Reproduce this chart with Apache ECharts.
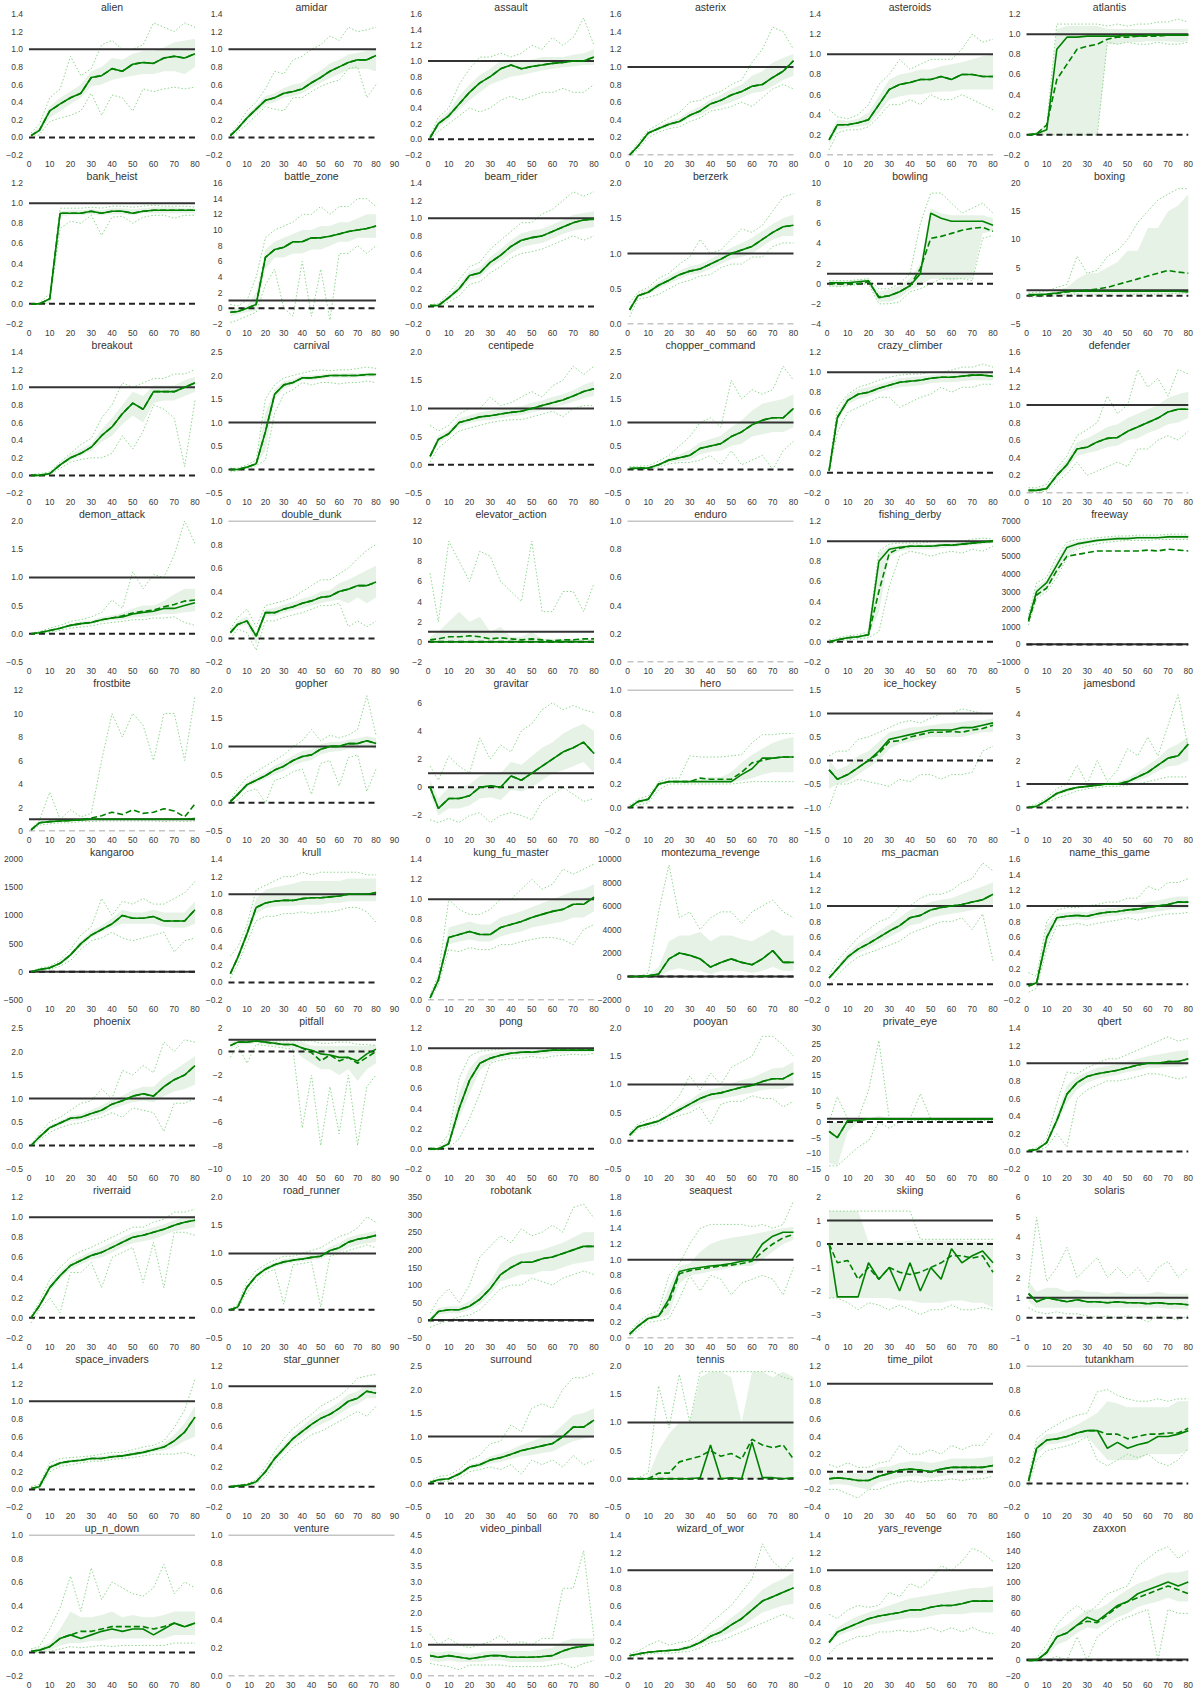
<!DOCTYPE html>
<html>
<head>
<meta charset="utf-8">
<title>Atari learning curves</title>
<script src="https://cdn.jsdelivr.net/npm/echarts@6/dist/echarts.min.js"></script>
<style>
  html, body { margin: 0; padding: 0; background: #fff; }
  #chart { width: 1196px; height: 1689px; }
</style>
</head>
<body>
<div id="chart"></div>
<script>
// ---------------------------------------------------------------------------
// Data (normalised score per game at xSteps)
// ---------------------------------------------------------------------------
const games = [
  'alien', 'amidar', 'assault', 'asterix', 'asteroids', 'atlantis',
  'bank_heist', 'battle_zone', 'beam_rider', 'berzerk', 'bowling', 'boxing',
  'breakout', 'carnival', 'centipede', 'chopper_command', 'crazy_climber', 'defender',
  'demon_attack', 'double_dunk', 'elevator_action', 'enduro', 'fishing_derby', 'freeway',
  'frostbite', 'gopher', 'gravitar', 'hero', 'ice_hockey', 'jamesbond',
  'kangaroo', 'krull', 'kung_fu_master', 'montezuma_revenge', 'ms_pacman', 'name_this_game',
  'phoenix', 'pitfall', 'pong', 'pooyan', 'private_eye', 'qbert',
  'riverraid', 'road_runner', 'robotank', 'seaquest', 'skiing', 'solaris',
  'space_invaders', 'star_gunner', 'surround', 'tennis', 'time_pilot', 'tutankham',
  'up_n_down', 'venture', 'video_pinball', 'wizard_of_wor', 'yars_revenge', 'zaxxon'
];

const xSteps = [1, 5, 10, 15, 20, 25, 30, 35, 40, 45, 50, 55, 60, 65, 70, 75, 80];

// games whose x axis runs to 90
const wideAxisGames = ['amidar', 'battle_zone', 'carnival', 'double_dunk', 'gopher',
  'krull', 'pitfall', 'road_runner', 'star_gunner'];

const humanScore = 1;
const randomScore = 0;
const refSpan = [0, 80];

// [min, max, tick step] per game
const yRanges = [
  [-0.2, 1.4, 0.2], [-0.2, 1.4, 0.2], [-0.2, 1.6, 0.2], [0, 1.6, 0.2], [0, 1.4, 0.2], [-0.2, 1.2, 0.2],
  [-0.2, 1.2, 0.2], [-2, 16, 2], [-0.2, 1.4, 0.2], [0, 2, 0.5], [-4, 10, 2], [-5, 20, 5],
  [-0.2, 1.4, 0.2], [-0.5, 2.5, 0.5], [-0.5, 2, 0.5], [-0.5, 2.5, 0.5], [-0.2, 1.2, 0.2], [0, 1.6, 0.2],
  [-0.5, 2, 0.5], [-0.2, 1, 0.2], [-2, 12, 2], [0, 1, 0.2], [-0.2, 1.2, 0.2], [-1000, 7000, 1000],
  [0, 12, 2], [-0.5, 2, 0.5], [-3.1, 6.9, 2], [-0.2, 1, 0.2], [-1.5, 1.5, 0.5], [-1, 5, 1],
  [-500, 2000, 500], [-0.2, 1.4, 0.2], [0, 1.4, 0.2], [-2000, 10000, 2000], [-0.2, 1.6, 0.2], [-0.2, 1.6, 0.2],
  [-0.5, 2.5, 0.5], [-10, 2, 2], [-0.2, 1.2, 0.2], [-0.5, 2, 0.5], [-15, 30, 5], [-0.2, 1.4, 0.2],
  [-0.2, 1.2, 0.2], [-0.5, 2, 0.5], [-50, 350, 50], [0, 1.8, 0.2], [-4, 2, 1], [-1, 6, 1],
  [-0.2, 1.4, 0.2], [-0.2, 1.2, 0.2], [-0.5, 2.5, 0.5], [-0.5, 2, 0.5], [-0.4, 1.2, 0.2], [-0.2, 1, 0.2],
  [-0.2, 1, 0.2], [0, 1, 0.2], [0, 4.5, 0.5], [-0.2, 1.4, 0.2], [-0.2, 1.4, 0.2], [-20, 160, 20]
];

// median run (solid line)
const medianRuns = [
  [0.02,0.08,0.3,0.38,0.45,0.5,0.68,0.7,0.78,0.75,0.83,0.85,0.84,0.9,0.92,0.9,0.95], // alien
  [0.02,0.1,0.22,0.32,0.42,0.45,0.5,0.52,0.55,0.62,0.68,0.75,0.8,0.85,0.88,0.88,0.93], // amidar
  [0.02,0.2,0.3,0.45,0.6,0.72,0.8,0.9,0.95,0.9,0.93,0.95,0.97,0.98,1.0,1.0,1.05], // assault
  [0,0.1,0.25,0.3,0.35,0.38,0.45,0.5,0.58,0.62,0.68,0.72,0.78,0.8,0.88,0.95,1.07], // asterix
  [0.15,0.3,0.3,0.32,0.35,0.5,0.65,0.7,0.72,0.75,0.75,0.78,0.75,0.8,0.8,0.78,0.78], // asteroids
  [0,0.01,0.05,0.85,0.97,0.97,0.98,0.98,0.98,0.98,0.99,0.98,0.99,0.99,0.99,0.99,0.99], // atlantis
  [0,0,0.05,0.9,0.9,0.9,0.92,0.9,0.92,0.92,0.9,0.92,0.93,0.93,0.93,0.93,0.93], // bank_heist
  [-0.5,-0.4,0,0.5,6.5,7.5,7.8,8.5,8.5,9,9,9.2,9.5,9.8,10,10.2,10.5], // battle_zone
  [0.01,0.01,0.1,0.2,0.35,0.38,0.5,0.58,0.68,0.75,0.78,0.8,0.85,0.9,0.95,0.98,0.99], // beam_rider
  [0.2,0.4,0.45,0.55,0.62,0.7,0.75,0.78,0.85,0.92,1.0,1.05,1.1,1.2,1.3,1.38,1.4], // berzerk
  [0.1,0.1,0.1,0.2,0.3,-1.4,-1.2,-0.8,-0.2,1.0,7.0,6.5,6.2,6.2,6.2,6.2,5.8], // bowling
  [0.2,0.2,0.3,0.5,0.8,0.8,0.8,0.8,0.8,0.8,0.8,0.8,0.8,0.8,0.8,0.8,0.7], // boxing
  [0,0,0.02,0.12,0.2,0.25,0.32,0.45,0.55,0.7,0.82,0.75,0.95,0.95,0.95,1.0,1.05], // breakout
  [0,0,0.05,0.12,0.8,1.6,1.8,1.85,1.95,1.95,1.97,2.0,2.0,2.0,2.0,2.02,2.02], // carnival
  [0.15,0.45,0.55,0.75,0.8,0.85,0.87,0.9,0.93,0.95,1.0,1.05,1.1,1.15,1.22,1.3,1.35], // centipede
  [0.02,0.03,0.03,0.1,0.2,0.25,0.3,0.45,0.5,0.55,0.7,0.8,0.95,1.05,1.1,1.1,1.3], // chopper_command
  [0.02,0.55,0.72,0.78,0.8,0.84,0.87,0.9,0.91,0.92,0.94,0.95,0.95,0.96,0.97,0.97,0.96], // crazy_climber
  [0.03,0.03,0.05,0.2,0.32,0.5,0.52,0.58,0.62,0.63,0.7,0.75,0.8,0.85,0.92,0.95,0.95], // defender
  [0,0.02,0.06,0.1,0.15,0.18,0.2,0.25,0.28,0.3,0.35,0.38,0.4,0.45,0.45,0.5,0.55], // demon_attack
  [0.05,0.12,0.15,0.02,0.22,0.22,0.25,0.27,0.3,0.32,0.35,0.36,0.4,0.42,0.45,0.45,0.48], // double_dunk
  [0,0,0,0,0,0,0,0,0,0,0,0,0,0,0,0,0], // elevator_action
  null, // enduro
  [0,0.02,0.04,0.05,0.07,0.8,0.92,0.94,0.95,0.95,0.95,0.96,0.96,0.97,0.98,0.99,1.0], // fishing_derby
  [1400,3000,3500,4500,5500,5700,5800,5900,5950,6000,6000,6050,6050,6050,6100,6100,6100], // freeway
  [0.1,0.7,0.8,0.85,0.9,0.95,1.0,1.0,1.0,1.0,1.0,1.0,1.0,1.0,1.0,1.0,1.05], // frostbite
  [0.02,0.15,0.32,0.4,0.48,0.58,0.65,0.75,0.82,0.85,0.95,1.0,1.0,1.05,1.05,1.1,1.05], // gopher
  [0,-1.5,-0.8,-0.8,-0.6,0,0.1,0,0.8,0.5,1.0,1.5,2.0,2.5,2.8,3.2,2.4], // gravitar
  [0,0.05,0.07,0.2,0.22,0.22,0.22,0.22,0.22,0.22,0.22,0.28,0.33,0.42,0.42,0.43,0.43], // hero
  [-0.2,-0.4,-0.3,-0.15,0,0.2,0.45,0.5,0.55,0.6,0.65,0.65,0.65,0.7,0.7,0.75,0.8], // ice_hockey
  [0,0.05,0.3,0.6,0.75,0.85,0.9,0.95,1.0,1.0,1.1,1.3,1.5,1.8,2.1,2.2,2.7], // jamesbond
  [0,40,70,150,300,500,650,750,850,1000,950,950,980,900,900,900,1100], // kangaroo
  [0.1,0.28,0.55,0.85,0.9,0.92,0.93,0.93,0.95,0.96,0.96,0.97,0.98,1.0,1.0,1.0,1.02], // krull
  [0.02,0.2,0.62,0.65,0.68,0.65,0.65,0.72,0.75,0.78,0.82,0.85,0.88,0.9,0.95,0.95,1.02], // kung_fu_master
  [0,0,50,200,1500,2000,1800,1500,800,1200,1500,1200,1000,1500,2200,1200,1200], // montezuma_revenge
  [0.08,0.2,0.35,0.45,0.52,0.6,0.68,0.75,0.85,0.88,0.95,0.98,1.0,1.02,1.05,1.08,1.15], // ms_pacman
  [-0.02,0.02,0.6,0.85,0.87,0.88,0.87,0.9,0.92,0.93,0.95,0.96,0.98,1.0,1.02,1.05,1.05], // name_this_game
  [0,0.18,0.38,0.48,0.58,0.6,0.68,0.75,0.88,0.95,1.05,1.1,1.05,1.25,1.4,1.5,1.7], // phoenix
  [0.5,0.8,0.8,0.9,0.8,0.7,0.6,0.6,0.3,0.1,-0.2,-0.3,-0.5,-0.5,-0.8,-0.2,0.2], // pitfall
  [0,0,0.05,0.4,0.68,0.85,0.9,0.93,0.95,0.96,0.96,0.97,0.98,0.98,0.98,0.98,0.98], // pong
  [0.1,0.25,0.3,0.35,0.45,0.55,0.65,0.75,0.82,0.85,0.9,0.95,0.98,1.05,1.1,1.1,1.2], // pooyan
  [-3,-5,0.5,0.5,1,1,1,1,1,1,1,1,1,1,1,1,1], // private_eye
  [0.01,0.02,0.1,0.35,0.65,0.78,0.85,0.88,0.9,0.92,0.95,0.98,1.0,1.0,1.02,1.02,1.05], // qbert
  [0,0.12,0.3,0.42,0.52,0.57,0.62,0.65,0.7,0.75,0.8,0.82,0.85,0.88,0.92,0.95,0.97], // riverraid
  [0,0.05,0.4,0.6,0.72,0.8,0.85,0.88,0.9,0.93,0.95,1.05,1.1,1.2,1.25,1.28,1.32], // road_runner
  [0,25,30,30,40,60,90,130,150,165,165,175,180,190,200,210,210], // robotank
  [0.05,0.15,0.25,0.28,0.5,0.85,0.88,0.9,0.92,0.93,0.95,0.98,1.0,1.2,1.3,1.35,1.35], // seaquest
  [0,-2.25,-2.25,-2.25,-0.8,-1.5,-1,-2,-0.8,-2,-1,-1.5,-0.2,-0.8,-0.5,-0.3,-0.8], // skiing
  [1.2,0.8,1.0,0.9,0.8,0.9,0.8,0.8,0.75,0.8,0.75,0.75,0.7,0.75,0.7,0.7,0.65], // solaris
  [0.01,0.03,0.25,0.3,0.32,0.33,0.35,0.35,0.37,0.38,0.4,0.42,0.45,0.48,0.55,0.65,0.82], // space_invaders
  [0,0.01,0.02,0.05,0.15,0.28,0.38,0.48,0.55,0.62,0.68,0.72,0.78,0.85,0.88,0.95,0.93], // star_gunner
  [0.02,0.08,0.1,0.2,0.35,0.4,0.5,0.55,0.62,0.7,0.75,0.8,0.85,1.0,1.2,1.2,1.35], // surround
  [0,0,0,0,0,0,0,0.02,0.6,0,0.02,0,0.65,0.02,0.02,0,0.02], // tennis
  [-0.08,-0.07,-0.08,-0.1,-0.1,-0.05,-0.02,0.02,0.03,0.02,0,0.03,0.05,0.05,0.05,0.05,0.07], // time_pilot
  [0.02,0.3,0.37,0.38,0.4,0.43,0.45,0.45,0.3,0.35,0.3,0.33,0.35,0.4,0.4,0.42,0.45], // tutankham
  [0.01,0.02,0.05,0.12,0.15,0.12,0.15,0.18,0.2,0.18,0.2,0.2,0.15,0.2,0.25,0.22,0.25], // up_n_down
  null, // venture
  [0.65,0.6,0.65,0.6,0.55,0.6,0.65,0.65,0.6,0.6,0.6,0.62,0.65,0.8,0.9,0.95,1.0], // video_pinball
  [0.03,0.05,0.07,0.08,0.09,0.1,0.13,0.18,0.25,0.3,0.38,0.45,0.55,0.65,0.7,0.75,0.8], // wizard_of_wor
  [0.18,0.3,0.35,0.4,0.45,0.48,0.5,0.52,0.55,0.55,0.58,0.6,0.6,0.62,0.65,0.65,0.65], // yars_revenge
  [0,0,10,30,35,45,55,50,60,70,75,85,90,95,100,95,100] // zaxxon
];

// mean run (dashed line), only where it visibly leaves the median
const meanGames = ['atlantis', 'bowling', 'boxing', 'demon_attack', 'elevator_action', 'fishing_derby',
  'freeway', 'frostbite', 'hero', 'ice_hockey', 'pitfall', 'seaquest', 'skiing', 'tennis',
  'tutankham', 'up_n_down', 'zaxxon'];
const meanRuns = [
  [0,0.01,0.1,0.55,0.7,0.85,0.88,0.9,0.95,0.97,0.97,0.98,0.98,0.98,0.99,0.99,0.99], // atlantis
  [0,0,0,0,0.2,-1.3,-1.2,-0.8,-0.2,1.5,4.5,4.7,5.0,5.3,5.5,5.6,5.2], // bowling
  [0.1,0.1,0.2,0.4,0.7,0.8,1.0,1.2,1.5,2.0,2.5,3.0,3.5,4.0,4.5,4.2,4.0], // boxing
  [0,0.02,0.06,0.1,0.15,0.18,0.2,0.25,0.28,0.32,0.37,0.4,0.42,0.48,0.52,0.58,0.6], // demon_attack
  [0.2,0.3,0.5,0.5,0.6,0.5,0.3,0.4,0.3,0.2,0.3,0.2,0.1,0.2,0.2,0.3,0.3], // elevator_action
  [0,0.02,0.04,0.05,0.07,0.5,0.88,0.93,0.95,0.95,0.95,0.96,0.96,0.97,0.98,0.99,1.0], // fishing_derby
  [1300,2800,3200,4200,5000,5100,5200,5300,5300,5300,5300,5300,5350,5300,5400,5350,5300], // freeway
  [0.1,0.7,0.8,0.85,0.9,0.95,1.1,1.3,1.6,1.4,1.8,1.5,1.6,1.9,1.7,1.2,2.3], // frostbite
  [0,0.05,0.07,0.2,0.22,0.22,0.22,0.25,0.24,0.24,0.24,0.3,0.38,0.4,0.42,0.43,0.43], // hero
  [-0.2,-0.4,-0.3,-0.15,0,0.15,0.4,0.42,0.5,0.55,0.6,0.6,0.62,0.6,0.65,0.68,0.75], // ice_hockey
  [0.5,0.8,0.8,0.9,0.8,0.7,0.6,0.6,0.3,-0.1,-0.8,-0.3,-0.8,-0.5,-1.0,-0.5,0], // pitfall
  [0.05,0.15,0.25,0.28,0.45,0.82,0.86,0.88,0.9,0.92,0.93,0.95,0.98,1.1,1.2,1.28,1.32], // seaquest
  [0,-0.8,-0.7,-1.5,-1,-1.5,-1,-1.2,-1.3,-1.2,-1,-0.8,-0.5,-0.5,-0.6,-0.5,-1.2], // skiing
  [0,0,0,0.1,0.1,0.3,0.35,0.4,0.5,0.4,0.45,0.35,0.7,0.6,0.55,0.6,0.35], // tennis
  [0.02,0.3,0.37,0.38,0.4,0.43,0.45,0.45,0.42,0.42,0.38,0.4,0.42,0.42,0.43,0.43,0.47], // tutankham
  [0.01,0.02,0.05,0.12,0.15,0.18,0.18,0.2,0.22,0.22,0.22,0.22,0.2,0.22,0.25,0.22,0.25], // up_n_down
  [0,0,10,30,35,45,50,48,58,68,75,80,85,90,95,90,85] // zaxxon
];

// shaded band, lower edge
const bandLow = [
  [0,0.05,0.22,0.3,0.38,0.45,0.58,0.6,0.65,0.68,0.7,0.72,0.72,0.75,0.75,0.72,0.8], // alien
  [0.01,0.08,0.18,0.28,0.37,0.4,0.45,0.47,0.5,0.56,0.62,0.67,0.72,0.77,0.78,0.78,0.75], // amidar
  [0,0.15,0.25,0.38,0.5,0.6,0.7,0.75,0.8,0.82,0.85,0.88,0.9,0.92,0.93,0.95,0.95], // assault
  [0,0.08,0.22,0.28,0.32,0.35,0.42,0.45,0.52,0.56,0.6,0.65,0.7,0.72,0.78,0.85,0.9], // asterix
  [0.1,0.25,0.27,0.28,0.3,0.42,0.55,0.58,0.6,0.6,0.62,0.63,0.63,0.65,0.65,0.65,0.65], // asteroids
  [0,0,0,0,0,0,0,0,0.9,0.9,0.92,0.92,0.93,0.93,0.93,0.92,0.93], // atlantis
  [0,0,0.02,0.87,0.88,0.88,0.89,0.88,0.89,0.89,0.88,0.9,0.9,0.9,0.9,0.9,0.9], // bank_heist
  [-1,-0.8,-0.5,-0.3,5,6.5,6.5,7,7,7.5,7.5,8,8.5,8.5,9,9,9], // battle_zone
  [0,0,0.07,0.16,0.3,0.33,0.44,0.52,0.6,0.67,0.7,0.72,0.77,0.82,0.86,0.88,0.9], // beam_rider
  [0.15,0.37,0.42,0.5,0.57,0.64,0.7,0.72,0.78,0.85,0.92,0.95,1.0,1.1,1.2,1.25,1.25], // berzerk
  [-0.3,-0.3,-0.2,-0.1,0,-1.8,-1.8,-1.4,-0.6,-0.2,0.5,0.5,0.3,0.5,0.5,5,5.2], // bowling
  [0,0,0,0.1,0.2,0.3,0.2,0.2,0.3,0.3,0.3,0.3,0.3,0.3,0.3,0.3,0.3], // boxing
  [0,0,0.01,0.1,0.17,0.22,0.28,0.38,0.45,0.58,0.68,0.6,0.82,0.85,0.85,0.9,0.95], // breakout
  [-0.02,-0.01,0.03,0.1,0.4,1.5,1.72,1.8,1.9,1.9,1.92,1.95,1.95,1.95,1.96,1.97,1.98], // carnival
  [0.1,0.38,0.5,0.68,0.74,0.78,0.8,0.83,0.86,0.88,0.93,0.97,1.02,1.06,1.12,1.18,1.22], // centipede
  [0,0.01,0.01,0.07,0.15,0.18,0.2,0.32,0.38,0.4,0.5,0.55,0.7,0.75,0.8,0.8,0.9], // chopper_command
  [0,0.5,0.68,0.73,0.76,0.8,0.83,0.85,0.86,0.87,0.89,0.9,0.9,0.91,0.92,0.92,0.92], // crazy_climber
  [0.01,0.02,0.03,0.15,0.27,0.42,0.45,0.48,0.52,0.54,0.6,0.62,0.68,0.72,0.78,0.8,0.85], // defender
  [0,0.01,0.04,0.08,0.12,0.15,0.17,0.21,0.24,0.25,0.29,0.3,0.32,0.35,0.35,0.38,0.4], // demon_attack
  [0.03,0.1,0.12,-0.05,0.19,0.19,0.22,0.24,0.26,0.28,0.3,0.32,0.33,0.3,0.35,0.3,0.35], // double_dunk
  [0,0,0,0,0,0,0,0,0,0,0,0,0,0,0,0,0], // elevator_action
  null, // enduro
  [-0.01,0.01,0.03,0.04,0.05,0.3,0.85,0.9,0.92,0.92,0.92,0.93,0.94,0.95,0.96,0.97,0.98], // fishing_derby
  [1200,2700,3100,4000,5000,5500,5700,5800,5850,5900,5950,5950,5950,6000,6000,6000,6000], // freeway
  [0.05,0.6,0.7,0.75,0.8,0.85,0.9,0.9,0.9,0.9,0.9,0.9,0.9,0.9,0.9,0.9,0.9], // frostbite
  [0,0.1,0.27,0.35,0.42,0.5,0.57,0.66,0.72,0.76,0.86,0.9,0.92,0.95,0.96,1.0,0.95], // gopher
  [-0.5,-2.0,-1.5,-1.5,-1.3,-0.8,-0.7,-0.9,-0.2,-0.3,0,0.5,1.0,1.2,1.5,1.8,1.0], // gravitar
  [0,0.03,0.05,0.18,0.21,0.21,0.21,0.21,0.21,0.21,0.21,0.23,0.25,0.28,0.3,0.3,0.3], // hero
  [-0.6,-0.5,-0.45,-0.3,-0.15,0,0.25,0.35,0.4,0.45,0.5,0.5,0.5,0.5,0.55,0.6,0.6], // ice_hockey
  [-0.02,0,0.25,0.5,0.65,0.8,0.85,0.9,0.95,0.95,1.0,1.15,1.3,1.55,1.75,1.8,2.0], // jamesbond
  [0,30,60,120,260,450,600,700,780,850,850,850,850,800,780,780,850], // kangaroo
  [0.08,0.24,0.5,0.78,0.84,0.86,0.87,0.87,0.88,0.88,0.88,0.9,0.9,0.92,0.92,0.92,0.92], // krull
  [0.01,0.17,0.55,0.58,0.6,0.58,0.58,0.63,0.66,0.68,0.72,0.74,0.76,0.78,0.82,0.82,0.88], // kung_fu_master
  [0,0,0,0,500,700,500,500,200,500,500,500,300,500,800,500,500], // montezuma_revenge
  [0.05,0.16,0.3,0.4,0.46,0.53,0.6,0.67,0.75,0.78,0.85,0.88,0.9,0.92,0.95,0.98,1.02], // ms_pacman
  [-0.05,0,0.5,0.8,0.82,0.83,0.82,0.85,0.87,0.88,0.9,0.9,0.92,0.93,0.95,0.97,0.97], // name_this_game
  [0,0.15,0.33,0.43,0.52,0.54,0.6,0.66,0.78,0.85,0.92,0.95,0.92,1.05,1.15,1.2,1.3], // phoenix
  [0.2,0.6,0.6,0.7,0.6,0.5,0.4,0.3,-0.5,-1.0,-1.5,-1.5,-2.0,-1.5,-2.5,-1.5,-1.0], // pitfall
  [0,0,0.03,0.3,0.55,0.78,0.86,0.9,0.92,0.93,0.93,0.94,0.95,0.95,0.96,0.96,0.96], // pong
  [0.07,0.22,0.27,0.32,0.4,0.5,0.58,0.66,0.72,0.75,0.78,0.82,0.85,0.9,0.92,0.92,1.0], // pooyan
  [-13,-14,-3,0,0.8,0.8,0.8,0.8,0.8,0.8,0.8,0.8,0.8,0.8,0.8,0.8,0.8], // private_eye
  [0,0.01,0.08,0.3,0.55,0.7,0.78,0.82,0.85,0.87,0.9,0.92,0.95,0.95,0.96,0.96,0.98], // qbert
  [-0.01,0.1,0.26,0.38,0.48,0.53,0.58,0.6,0.65,0.7,0.74,0.76,0.78,0.82,0.86,0.88,0.9], // riverraid
  [-0.01,0.03,0.35,0.55,0.68,0.76,0.8,0.84,0.86,0.88,0.9,0.98,1.02,1.1,1.15,1.18,1.2], // road_runner
  [-10,15,20,20,30,45,75,110,120,130,130,140,140,150,160,165,170], // robotank
  [0.04,0.13,0.22,0.25,0.3,0.7,0.8,0.82,0.85,0.87,0.9,0.92,0.92,1.0,1.1,1.2,1.25], // seaquest
  [-2.3,-2.3,-2.3,-2.3,-2.3,-2.3,-2.3,-2.4,-2.4,-2.5,-2.5,-2.5,-2.4,-2.4,-2.5,-2.5,-2.7], // skiing
  [0.8,0.5,0.5,0.5,0.5,0.5,0.5,0.5,0.5,0.5,0.5,0.5,0.5,0.5,0.45,0.45,0.4], // solaris
  [0,0.02,0.22,0.27,0.3,0.31,0.33,0.33,0.35,0.36,0.38,0.4,0.42,0.44,0.48,0.55,0.6], // space_invaders
  [0,0,0.01,0.04,0.12,0.24,0.34,0.43,0.5,0.57,0.62,0.66,0.72,0.78,0.82,0.88,0.88], // star_gunner
  [0,0.05,0.07,0.15,0.3,0.34,0.42,0.46,0.52,0.58,0.6,0.65,0.68,0.8,0.9,0.95,1.0], // surround
  [0,0,0,0,0,0,0,0,0,0,0,0,0,0,0,0,0], // tennis
  [-0.15,-0.14,-0.15,-0.18,-0.2,-0.12,-0.1,-0.06,-0.05,-0.05,-0.07,-0.05,-0.03,-0.03,-0.03,-0.03,-0.02], // time_pilot
  [0,0.25,0.33,0.34,0.36,0.38,0.4,0.3,0.2,0.2,0.2,0.2,0.25,0.25,0.25,0.25,0.28], // tutankham
  [0,0,0.02,0.06,0.08,0.08,0.1,0.1,0.12,0.12,0.12,0.12,0.12,0.12,0.15,0.15,0.15], // up_n_down
  null, // venture
  [0.5,0.45,0.5,0.45,0.45,0.45,0.5,0.5,0.45,0.45,0.45,0.45,0.5,0.55,0.6,0.6,0.65], // video_pinball
  [0.02,0.04,0.06,0.07,0.08,0.08,0.1,0.15,0.2,0.25,0.3,0.36,0.44,0.52,0.56,0.6,0.62], // wizard_of_wor
  [0.15,0.25,0.3,0.34,0.38,0.4,0.42,0.44,0.46,0.46,0.48,0.5,0.5,0.5,0.52,0.52,0.52], // yars_revenge
  [0,0,5,20,25,35,42,40,48,55,60,68,72,75,80,75,75] // zaxxon
];

// shaded band, upper edge
const bandHigh = [
  [0.04,0.12,0.35,0.45,0.52,0.6,0.75,0.8,0.9,0.88,0.95,0.98,0.98,1.02,1.08,1.1,1.12], // alien
  [0.03,0.12,0.26,0.36,0.47,0.5,0.56,0.6,0.62,0.7,0.76,0.84,0.88,0.94,0.96,0.98,1.0], // amidar
  [0.04,0.25,0.36,0.55,0.7,0.82,0.9,1.0,1.02,1.0,1.02,1.05,1.05,1.05,1.08,1.1,1.15], // assault
  [0.01,0.12,0.27,0.33,0.38,0.42,0.5,0.55,0.63,0.68,0.75,0.8,0.9,0.95,1.05,1.1,1.15], // asterix
  [0.2,0.35,0.34,0.36,0.42,0.58,0.75,0.8,0.82,0.85,0.85,0.88,0.9,0.92,0.95,0.98,1.0], // asteroids
  [0.01,0.02,0.1,1.05,1.08,1.08,1.08,1.08,1.05,1.05,1.05,1.05,1.05,1.05,1.05,1.05,1.05], // atlantis
  [0,0,0.06,0.92,0.93,0.93,0.94,0.93,0.95,0.95,0.94,0.95,0.96,0.96,0.96,0.95,0.95], // bank_heist
  [0,0,0.3,2,7.5,8.5,9,9.5,10,10,10.5,10.5,11,11,11.5,12,12], // battle_zone
  [0.02,0.02,0.13,0.25,0.4,0.44,0.56,0.65,0.75,0.83,0.86,0.88,0.93,0.98,1.04,1.06,1.08], // beam_rider
  [0.25,0.43,0.5,0.6,0.68,0.76,0.82,0.85,0.92,1.0,1.08,1.15,1.22,1.32,1.42,1.5,1.55], // berzerk
  [0.3,0.3,0.3,0.4,0.5,-0.8,-0.6,-0.2,0.5,2,7.5,7,6.8,6.8,6.8,6.8,6.5], // bowling
  [0.4,0.4,0.5,1,1.5,3,4,4,5,6,8,8,12,12,15,16,18], // boxing
  [0,0.01,0.03,0.14,0.24,0.3,0.36,0.52,0.65,0.8,0.95,0.9,1.02,1.02,1.02,1.08,1.12], // breakout
  [0.02,0.02,0.08,0.15,1.2,1.7,1.88,1.92,2.0,2.0,2.02,2.04,2.04,2.05,2.05,2.06,2.06], // carnival
  [0.2,0.52,0.62,0.82,0.88,0.93,0.96,1.0,1.02,1.04,1.1,1.14,1.2,1.25,1.32,1.42,1.48], // centipede
  [0.04,0.05,0.05,0.13,0.25,0.32,0.42,0.58,0.65,0.72,0.9,1.05,1.25,1.4,1.45,1.5,1.6], // chopper_command
  [0.04,0.6,0.77,0.83,0.85,0.88,0.91,0.94,0.95,0.96,0.97,0.98,0.98,0.99,1.0,1.0,1.0], // crazy_climber
  [0.05,0.05,0.08,0.25,0.38,0.58,0.62,0.68,0.75,0.78,0.85,0.9,0.95,1.0,1.08,1.12,1.15], // defender
  [0,0.03,0.08,0.12,0.18,0.22,0.24,0.3,0.33,0.37,0.45,0.5,0.5,0.58,0.7,0.8,0.8], // demon_attack
  [0.07,0.15,0.19,0.05,0.25,0.26,0.29,0.31,0.34,0.36,0.4,0.41,0.47,0.5,0.54,0.58,0.62], // double_dunk
  [0.5,1,2,3,2,2.5,1,1.5,0.5,0.5,1,0.3,0.3,0.3,0.3,0.3,0.3], // elevator_action
  null, // enduro
  [0.01,0.03,0.05,0.06,0.09,0.88,0.95,0.96,0.97,0.97,0.97,0.98,0.98,0.99,1.0,1.0,1.01], // fishing_derby
  [1600,3300,3700,4800,5700,5850,5950,6000,6050,6100,6100,6150,6150,6150,6200,6200,6200], // freeway
  [0.15,0.8,0.9,0.95,1.0,1.05,1.1,1.1,1.1,1.1,1.1,1.1,1.1,1.1,1.1,1.1,1.2], // frostbite
  [0.04,0.2,0.37,0.46,0.54,0.66,0.74,0.84,0.92,0.95,1.04,1.08,1.08,1.12,1.14,1.18,1.15], // gopher
  [0.5,-0.8,0,0,0.2,0.8,1.0,1.0,1.8,1.6,2.2,2.8,3.2,3.8,4.2,4.5,4.0], // gravitar
  [0.01,0.06,0.08,0.22,0.23,0.23,0.23,0.25,0.26,0.26,0.3,0.38,0.45,0.5,0.55,0.58,0.6], // hero
  [0,-0.2,-0.1,0.1,0.2,0.4,0.6,0.65,0.7,0.72,0.75,0.78,0.8,0.82,0.85,0.85,0.9], // ice_hockey
  [0.03,0.1,0.35,0.7,0.85,0.92,0.98,1.02,1.08,1.1,1.25,1.5,1.8,2.1,2.5,2.7,3.0], // jamesbond
  [0,50,80,180,340,550,720,820,950,1100,1050,1050,1100,1050,1050,1050,1250], // kangaroo
  [0.12,0.32,0.62,0.95,1.05,1.08,1.1,1.12,1.15,1.15,1.15,1.15,1.15,1.18,1.18,1.18,1.18], // krull
  [0.03,0.23,0.72,0.75,0.78,0.75,0.75,0.82,0.85,0.88,0.92,0.96,1.0,1.04,1.08,1.1,1.15], // kung_fu_master
  [0,0,100,800,3000,3500,3500,3800,3000,3500,3500,3200,3000,3500,4000,3500,3500], // montezuma_revenge
  [0.1,0.24,0.4,0.52,0.6,0.68,0.76,0.85,0.95,1.0,1.05,1.08,1.1,1.15,1.2,1.25,1.3], // ms_pacman
  [0.02,0.05,0.75,0.9,0.92,0.93,0.92,0.96,0.97,0.98,1.0,1.02,1.05,1.07,1.1,1.12,1.12], // name_this_game
  [0,0.22,0.43,0.53,0.64,0.67,0.76,0.85,0.98,1.06,1.18,1.25,1.25,1.45,1.6,1.75,1.9], // phoenix
  [0.8,1.0,1.0,1.0,0.9,0.9,0.8,0.8,0.8,0.5,0.5,0.5,0.5,0.5,0.5,0.5,0.6], // pitfall
  [0,0,0.1,0.55,0.8,0.92,0.95,0.97,0.98,0.98,0.98,0.99,0.99,0.99,0.99,0.99,0.99], // pong
  [0.13,0.28,0.33,0.38,0.5,0.62,0.72,0.85,0.92,0.95,1.02,1.08,1.12,1.2,1.28,1.3,1.4], // pooyan
  [0,0,1,1,1,2,1,1,1,1,1,1,1,1,1,1,1], // private_eye
  [0.02,0.03,0.13,0.42,0.75,0.85,0.9,0.95,0.97,0.99,1.02,1.05,1.08,1.1,1.12,1.14,1.15], // qbert
  [0.01,0.14,0.34,0.46,0.56,0.61,0.66,0.7,0.75,0.8,0.85,0.87,0.9,0.93,0.97,1.0,1.02], // riverraid
  [0.01,0.08,0.45,0.65,0.77,0.84,0.9,0.92,0.95,0.98,1.02,1.12,1.18,1.28,1.33,1.36,1.4], // road_runner
  [10,35,40,40,55,80,110,160,180,190,195,200,210,220,235,250,250], // robotank
  [0.07,0.18,0.28,0.32,0.65,0.92,0.95,1.1,1.2,1.25,1.28,1.3,1.32,1.35,1.38,1.4,1.42], // seaquest
  [1.4,1.4,1.4,1.4,0.1,0.1,0.1,0.1,0.15,0.15,0.15,0.15,0.15,0.15,0.1,0.1,0.1], // skiing
  [1.8,1.3,1.5,1.5,1.3,1.4,1.3,1.3,1.2,1.3,1.2,1.2,1.2,1.3,1.2,1.2,1.2], // solaris
  [0.02,0.05,0.28,0.32,0.34,0.35,0.37,0.38,0.4,0.4,0.43,0.45,0.48,0.52,0.62,0.75,0.95], // space_invaders
  [0,0.02,0.03,0.06,0.18,0.32,0.42,0.53,0.6,0.68,0.74,0.78,0.84,0.92,0.95,1.02,1.02], // star_gunner
  [0.04,0.11,0.13,0.25,0.4,0.46,0.58,0.64,0.72,0.82,0.9,0.98,1.05,1.25,1.45,1.5,1.6], // surround
  [0,0,0.05,0.5,0.8,1.0,1.0,1.8,1.9,1.9,1.8,1.0,1.9,1.9,1.8,1.9,1.8], // tennis
  [0,0,0,-0.02,0,0.05,0.06,0.1,0.12,0.12,0.1,0.12,0.15,0.15,0.15,0.16,0.18], // time_pilot
  [0.05,0.35,0.42,0.43,0.46,0.5,0.55,0.6,0.7,0.68,0.65,0.65,0.65,0.65,0.65,0.7,0.7], // tutankham
  [0.02,0.04,0.08,0.2,0.35,0.3,0.3,0.32,0.35,0.3,0.32,0.3,0.3,0.32,0.35,0.35,0.35], // up_n_down
  null, // venture
  [0.8,0.75,0.8,0.75,0.7,0.75,0.8,0.8,0.8,0.8,0.8,0.85,0.9,1.1,1.2,1.2,1.2], // video_pinball
  [0.04,0.06,0.08,0.09,0.1,0.12,0.16,0.22,0.3,0.36,0.46,0.55,0.66,0.78,0.85,0.9,0.98], // wizard_of_wor
  [0.22,0.35,0.42,0.48,0.52,0.56,0.6,0.64,0.68,0.7,0.72,0.74,0.76,0.78,0.8,0.8,0.82], // yars_revenge
  [0,2,15,38,45,55,65,65,72,82,90,98,102,108,112,112,115] // zaxxon
];

// best single run (upper dotted line)
const seedHigh = [
  [0.05,0.15,0.45,0.55,0.92,0.7,0.78,1.05,1.1,1.0,1.0,1.05,1.3,1.25,1.2,1.3,1.25], // alien
  [0.04,0.14,0.3,0.4,0.55,0.75,0.72,0.88,0.92,1.0,1.05,1.15,1.1,1.25,1.2,1.22,1.25], // amidar
  [0.05,0.28,0.4,0.7,0.9,1.05,1.05,1.1,1.05,1.1,1.2,1.15,1.3,1.2,1.3,1.55,1.2], // assault
  [0.01,0.14,0.28,0.35,0.42,0.48,0.6,0.62,0.68,0.72,0.8,0.85,1.05,1.2,1.45,1.4,1.2], // asterix
  [0.45,0.38,0.36,0.4,0.5,0.7,0.8,0.95,0.85,0.9,0.95,0.95,0.95,1.05,1.2,1.12,1.15], // asteroids
  [0.01,0.02,0.1,1.1,1.1,1.1,1.1,1.1,1.08,1.1,1.08,1.1,1.1,1.12,1.12,1.15,1.12], // atlantis
  [0,0.01,0.1,0.95,0.95,0.95,0.96,0.95,0.97,0.97,0.96,0.97,0.98,0.97,0.97,0.97,0.96], // bank_heist
  [0.5,0.3,1,4,9,10,10.5,11,12,12,13,12,13,13,14,14,13], // battle_zone
  [0.02,0.03,0.15,0.3,0.45,0.5,0.65,0.75,0.85,0.95,0.95,1.05,1.1,1.2,1.3,1.25,1.3], // beam_rider
  [0.3,0.45,0.52,0.65,0.72,0.85,0.95,1.2,1.0,1.05,1.2,1.35,1.3,1.4,1.6,1.8,1.85], // berzerk
  [0.3,0.3,0.3,0.4,0.5,-0.5,-0.5,0,1,6,9,9,8,7,7.5,8,7], // bowling
  [0.5,0.6,0.8,1.5,2,7,4,4.5,7,8,10,13,15,17,18,19,19], // boxing
  [0.01,0.02,0.04,0.15,0.25,0.35,0.42,0.65,0.8,1.05,1.0,1.05,1.1,1.1,1.15,1.15,1.2], // breakout
  [0.03,0.03,0.1,0.2,1.5,1.8,1.95,2.0,2.05,2.1,2.12,2.1,2.12,2.12,2.15,2.18,2.15], // carnival
  [0.7,0.6,0.7,0.9,1.0,1.0,1.2,1.05,1.1,1.2,1.3,1.2,1.4,1.5,1.75,1.6,1.75], // centipede
  [0.06,0.07,0.08,0.18,0.3,0.5,0.7,1.0,1.1,0.9,1.9,1.5,1.7,1.6,1.7,2.2,1.9], // chopper_command
  [0.05,0.65,0.78,0.85,0.88,0.92,0.95,0.97,0.98,0.98,1.0,1.0,1.02,1.05,1.05,1.08,1.05], // crazy_climber
  [0.06,0.06,0.1,0.28,0.42,0.65,0.72,0.8,1.1,0.9,1.0,1.4,1.2,1.3,1.1,1.4,1.35], // defender
  [0.01,0.04,0.1,0.15,0.22,0.25,0.3,0.38,0.6,0.45,1.1,0.8,1.05,1.0,1.4,2.0,1.6], // demon_attack
  [0.08,0.18,0.25,0.1,0.28,0.3,0.32,0.35,0.4,0.45,0.5,0.5,0.55,0.6,0.68,0.75,0.8], // double_dunk
  [6.8,2,10,8,6,9,8.5,6,5,4,10,3,3,5,5,3,5.8], // elevator_action
  null, // enduro
  [0.02,0.04,0.06,0.07,0.1,0.9,0.97,0.98,0.98,0.98,0.99,1.0,1.0,1.0,1.02,1.03,1.02], // fishing_derby
  [1700,3500,3800,5000,5800,5950,6000,6050,6100,6150,6150,6200,6200,6200,6250,6250,6250], // freeway
  [0.2,0.9,3.3,1.0,1.8,1.2,1.5,6,10,8,10,9,6,10,10,6,11.5], // frostbite
  [0.05,0.25,0.45,0.55,0.65,0.75,0.85,1.0,1.1,1.3,1.1,1.2,1.15,1.2,1.3,1.9,1.2], // gopher
  [1.5,0.5,2.2,1.5,1.0,3.5,2,3,2.5,4,4.5,5.5,6.0,5.5,5.8,5.5,5.3], // gravitar
  [0.02,0.07,0.1,0.22,0.25,0.25,0.44,0.43,0.43,0.43,0.44,0.45,0.55,0.62,0.62,0.63,0.63], // hero
  [0.1,0.2,0.2,0.45,0.5,0.6,0.7,0.8,0.85,0.8,0.9,1.0,1.0,1.1,1.05,1.0,1.0], // ice_hockey
  [0.05,0.15,0.4,0.8,1.0,1.8,1.0,2.0,1.1,1.6,2.5,2.2,3.0,2.2,3.5,4.8,2.5], // jamesbond
  [0,60,100,200,400,650,800,1300,1000,1250,1200,1300,1200,1200,1300,1400,1600], // kangaroo
  [0.3,0.4,0.65,1.05,1.1,1.15,1.2,1.2,1.25,1.22,1.25,1.25,1.25,1.25,1.25,1.22,1.22], // krull
  [0.05,0.25,1.0,0.9,0.85,0.85,0.9,1.0,1.0,1.1,1.2,1.1,1.15,1.3,1.25,1.3,1.35], // kung_fu_master
  [0,0,300,5500,9500,5000,5500,4000,5000,5500,5500,4500,5500,6000,6500,5500,5000], // montezuma_revenge
  [0.12,0.3,0.45,0.6,0.7,0.8,0.85,1.0,1.0,1.1,1.15,1.15,1.2,1.3,1.35,1.55,1.45], // ms_pacman
  [0.15,0.1,0.8,0.95,0.98,0.98,1.0,1.02,1.05,1.05,1.1,1.1,1.25,1.2,1.3,1.3,1.35], // name_this_game
  [0.02,0.25,0.5,0.6,0.75,0.9,0.95,1.2,1.0,1.6,1.5,1.7,1.55,2.2,2.0,2.25,2.2], // phoenix
  [1.0,1.0,1.0,1.0,1.0,0.9,0.9,0.9,0.9,0.9,0.7,0.7,0.8,0.8,0.6,0.6,0.5], // pitfall
  [0.01,0.01,0.15,0.7,0.92,0.97,0.98,0.99,1.0,1.0,1.0,1.0,1.0,1.0,1.0,1.0,1.0], // pong
  [0.15,0.3,0.38,0.45,0.6,0.8,1.15,0.9,1.2,1.0,1.3,1.4,1.5,1.85,1.85,1.7,1.5], // pooyan
  [0,8,1,1,10,26,1,1,1,9,1,1,1,1,1,1,1], // private_eye
  [0.02,0.04,0.15,0.55,0.9,0.88,0.95,1.0,1.05,1.05,1.1,1.15,1.2,1.25,1.3,1.25,1.28], // qbert
  [0.02,0.16,0.38,0.5,0.6,0.66,0.7,0.75,0.8,0.85,0.9,0.9,0.95,0.98,1.05,1.05,1.08], // riverraid
  [0.02,0.1,0.5,0.7,0.8,0.88,0.95,0.95,1.0,1.05,1.1,1.2,1.3,1.35,1.45,1.65,1.55], // road_runner
  [20,60,90,50,100,180,210,240,220,260,240,250,270,250,320,330,290], // robotank
  [0.08,0.2,0.3,0.35,0.8,0.95,1.2,1.4,1.45,1.45,1.45,1.45,1.42,1.45,1.4,1.45,1.75], // seaquest
  [1.4,1.4,1.4,1.4,1.4,1.4,1.4,1.4,1.4,0.2,0.2,0.2,0.2,0.2,0.2,0.2,0.2], // skiing
  [1.5,5.0,1.8,2.5,3.5,2.0,2.5,3.0,2.0,2.5,2.0,2.5,1.8,2.5,2.8,2.0,2.5], // solaris
  [0.03,0.06,0.3,0.35,0.36,0.37,0.38,0.4,0.42,0.42,0.45,0.48,0.5,0.55,0.7,0.9,1.25], // space_invaders
  [0.01,0.02,0.03,0.07,0.2,0.35,0.48,0.58,0.65,0.72,0.8,0.85,0.9,0.98,1.08,1.1,1.12], // star_gunner
  [0.05,0.15,0.18,0.3,0.5,0.6,0.85,0.9,1.25,1.1,1.6,1.7,1.6,2.0,2.25,2.25,2.35], // surround
  [0,0.02,0.1,1.65,0.9,1.85,1.0,1.9,1.9,1.9,1.9,1.9,1.9,1.9,1.9,1.8,1.75], // tennis
  [0.08,0.05,0.1,0.05,0.05,0.1,0.12,0.3,0.2,0.2,0.25,0.2,0.3,0.25,0.3,0.3,0.45], // time_pilot
  [0.06,0.38,0.45,0.5,0.55,0.58,0.6,0.78,0.8,0.75,0.72,0.7,0.7,0.72,0.7,0.72,0.72], // tutankham
  [0.03,0.05,0.2,0.38,0.65,0.35,0.72,0.45,0.6,0.55,0.5,0.48,0.55,0.75,0.5,0.6,0.55], // up_n_down
  null, // venture
  [1.35,1.0,1.2,1.0,0.9,1.0,1.1,1.3,1.0,1.1,1.0,1.2,1.2,2.8,2.8,4.0,1.2], // video_pinball
  [0.05,0.08,0.15,0.2,0.15,0.18,0.2,0.28,0.4,0.5,0.6,0.75,0.9,1.3,1.1,1.0,1.15], // wizard_of_wor
  [0.5,0.45,0.55,0.6,0.58,0.6,0.75,0.7,0.85,0.8,0.9,1.05,1.0,1.1,1.25,1.2,1.1], // yars_revenge
  [0,3,20,45,60,70,60,70,85,90,95,120,130,140,145,130,140] // zaxxon
];

// worst single run (lower dotted line)
const seedLow = [
  [0,0.03,0.18,0.22,0.25,0.3,0.5,0.25,0.48,0.45,0.3,0.55,0.52,0.55,0.57,0.55,0.57], // alien
  [0,0.06,0.15,0.25,0.35,0.32,0.3,0.45,0.45,0.52,0.58,0.62,0.65,0.78,0.8,0.45,0.6], // amidar
  [0,0.1,0.2,0.3,0.4,0.35,0.4,0.5,0.55,0.5,0.55,0.6,0.6,0.65,0.6,0.6,0.7], // assault
  [0,0.06,0.2,0.26,0.3,0.32,0.38,0.42,0.5,0.52,0.55,0.6,0.55,0.65,0.75,0.8,0.75], // asterix
  [0.05,0.22,0.25,0.25,0.28,0.38,0.5,0.5,0.55,0.5,0.6,0.55,0.55,0.6,0.55,0.5,0.45], // asteroids
  [0,0,0,0,0,0,0,0,0.92,0.9,0.92,0.9,0.9,0.92,0.9,0.9,0.92], // atlantis
  [0,0,0.01,0.75,0.82,0.8,0.88,0.68,0.86,0.87,0.8,0.86,0.88,0.88,0.85,0.88,0.88], // bank_heist
  [-1.8,-1.5,-1,-0.5,3,5,0,-1,6,-1,5,-1.5,7,7,8,7,8], // battle_zone
  [0,0,0.05,0.12,0.25,0.28,0.38,0.45,0.55,0.6,0.62,0.65,0.7,0.75,0.8,0.75,0.8], // beam_rider
  [0.1,0.35,0.38,0.42,0.5,0.58,0.62,0.68,0.7,0.8,0.85,0.85,0.95,0.95,1.1,1.15,1.15], // berzerk
  [-0.2,-0.3,-0.2,-0.1,0,-2,-2,-1.8,-0.8,-0.5,0,0.5,0.5,0.5,0.3,4.5,4.8], // bowling
  [-0.2,-0.2,-0.1,0,0.2,0.3,0,0.2,0.2,0,0.2,0.3,0.2,0.3,0.3,0.5,0.5], // boxing
  [0,0,0.01,0.08,0.15,0.18,0.2,0.2,0.25,0.45,0.3,0.5,0.8,0.75,0.65,0.1,0.85], // breakout
  [-0.05,-0.03,0.02,0.08,0.2,1.2,1.6,1.7,1.85,1.8,1.85,1.85,1.82,1.85,1.85,1.88,1.85], // carnival
  [0.05,0.3,0.45,0.6,0.65,0.7,0.75,0.78,0.8,0.8,0.85,0.9,0.95,0.85,1.0,1.05,1.05], // centipede
  [0,0,0,0.05,0.12,0.15,0.15,0.2,0.3,0.1,0.4,0.1,0.2,0.3,0,0.4,0.6], // chopper_command
  [0,0.4,0.6,0.65,0.7,0.75,0.75,0.65,0.7,0.75,0.78,0.85,0.8,0.85,0.85,0.88,0.88], // crazy_climber
  [0,0.01,0.02,0.12,0.22,0.35,0.2,0.25,0.3,0.35,0.3,0.5,0.5,0.6,0.65,0.6,0.7], // defender
  [0,0,0.03,0.06,0.1,0.12,0.14,0.18,0.2,0.22,0.25,0.25,0.28,0.28,0.3,0.2,0.15], // demon_attack
  [0,0.08,0.05,-0.1,0.15,0.15,0.18,0.2,0.22,0.25,0.28,0.28,0.3,0.1,0.15,0.1,0.15], // double_dunk
  [0,0,0,0,0,0,0,0,0,0,0,0,0,0,0,0,0], // elevator_action
  null, // enduro
  [-0.02,0,0.02,0.03,0.04,0.1,0.55,0.85,0.9,0.88,0.85,0.88,0.9,0.88,0.92,0.9,0.95], // fishing_derby
  [1100,2600,3000,3800,4900,5400,5600,5700,5800,5850,5900,5900,5900,5950,5950,5950,5950], // freeway
  [0,0.5,0.6,0.7,0.7,0.8,0.8,0.85,0.85,0.85,0.85,0.85,0.85,0.8,0.85,0.8,0.85], // frostbite
  [-0.02,0.05,0.2,0.25,0.0,0.4,0.45,0.55,0.6,0.15,0.7,0.75,0.3,0.8,0.85,0.2,0.6], // gopher
  [-2.3,-2.5,-2.2,-2.5,-2.0,-1.8,-2.5,-2.0,-1.8,-2.0,-2.3,-1.0,-0.5,0,-0.5,-1.0,-0.8], // gravitar
  [-0.01,0.02,0.04,0.15,0.2,0.2,0.2,0.2,0.2,0.2,0.2,0.21,0.22,0.22,0.22,0.22,0.22], // hero
  [-1.0,-0.5,-0.5,-0.4,-0.45,-0.5,-0.55,-0.4,-0.45,-0.3,-0.3,-0.4,-0.3,-0.3,-0.25,0.2,0.3], // ice_hockey
  [0,0,0.2,0.4,0.55,0.7,0.8,0.85,0.9,0.9,0.95,1.0,1.1,1.2,1.3,1.3,1.3], // jamesbond
  [0,20,40,100,200,400,550,600,700,600,550,600,650,700,350,550,600], // kangaroo
  [0.05,0.2,0.45,0.7,0.75,0.75,0.78,0.78,0.8,0.78,0.8,0.8,0.82,0.85,0.85,0.8,0.68], // krull
  [0,0.15,0.5,0.48,0.52,0.5,0.5,0.55,0.55,0.58,0.6,0.62,0.62,0.6,0.55,0.7,0.75], // kung_fu_master
  [0,0,0,0,0,0,0,0,0,0,0,0,0,0,0,0,0], // montezuma_revenge
  [-0.02,0.12,0.25,0.35,0.4,0.45,0.5,0.55,0.65,0.7,0.75,0.8,0.8,0.85,0.7,0.9,0.3], // ms_pacman
  [-0.1,-0.05,0.45,0.75,0.75,0.78,0.75,0.78,0.8,0.82,0.85,0.82,0.85,0.88,0.9,0.9,0.92], // name_this_game
  [-0.02,0.12,0.28,0.38,0.45,0.48,0.55,0.6,0.7,0.6,0.8,0.75,0.7,0.3,0.9,0.9,1.0], // phoenix
  [-0.5,0.5,-1.0,0.6,0.5,0.4,0.3,0.2,-6.5,-2,-8,-3,-7,-2,-8,-3,-2], // pitfall
  [-0.01,-0.01,0.01,0.1,0.3,0.55,0.85,0.88,0.9,0.9,0.92,0.9,0.92,0.93,0.94,0.93,0.95], // pong
  [0.05,0.2,0.25,0.3,0.38,0.45,0.5,0.6,0.3,0.65,0.7,0.7,0.8,0.75,0.75,0.6,0.7], // pooyan
  [-14,-14,-11,-8,-6,0,-2,0,0.5,0.5,0.5,0.5,0.5,0.5,0.5,0.5,0.5], // private_eye
  [0,0,0.05,0.2,0.05,0.6,0.7,0.75,0.8,0.8,0.82,0.85,0.88,0.88,0.85,0.82,0.85], // qbert
  [-0.05,0.08,0.2,0.05,0.45,0.45,0.55,0.3,0.6,0.65,0.7,0.35,0.75,0.3,0.85,0.85,0.82], // riverraid
  [-0.02,0.02,0.3,0.5,0.65,0.72,0.1,0.8,0.82,0.85,0.05,0.95,1.0,1.05,1.1,1.15,1.1], // road_runner
  [-20,-10,0,10,15,30,60,90,100,100,120,110,100,120,130,140,130], // robotank
  [0.03,0.1,0.2,0.22,0.25,0.5,0.8,0.6,0.8,0.75,0.55,0.7,0.75,0.8,0.75,0.55,0.9], // seaquest
  [-2.3,-2.3,-2.5,-2.8,-2.5,-2.6,-2.8,-2.6,-2.8,-3.0,-2.8,-2.8,-2.6,-2.8,-2.8,-2.7,-2.8], // skiing
  [0.5,0.3,0.2,0.3,0.2,0.2,0.1,0.0,0.1,0.0,0.1,0.0,-0.2,0.1,0.0,-0.1,0.1], // solaris
  [0,0.01,0.2,0.26,0.28,0.3,0.32,0.32,0.34,0.35,0.36,0.38,0.4,0.4,0.4,0.42,0.38], // space_invaders
  [0,0,0.01,0.03,0.1,0.22,0.3,0.4,0.45,0.52,0.55,0.6,0.65,0.7,0.75,0.7,0.8], // star_gunner
  [-0.02,0.03,0.05,0.12,0.25,0.3,0.35,0.3,0.4,0.2,0.5,0.4,0.5,0.35,0.6,0.4,0.5], // surround
  [0,0,0,0,0,0,0,0,0,0,0,0,0,0,0,0,0], // tennis
  [-0.2,-0.2,-0.25,-0.3,-0.2,-0.2,-0.15,-0.12,-0.1,-0.12,-0.1,-0.1,-0.08,-0.1,-0.08,-0.08,-0.05], // time_pilot
  [-0.02,0.2,0.28,0.3,0.32,0.35,0.4,0.2,0.15,0.2,0.25,0.22,0.25,0.18,0.15,0.2,0.3], // tutankham
  [0,0,0.01,0.03,0.05,0.04,0.05,0.06,0.05,0.06,0.06,0.06,0.06,0.06,0.08,0.08,0.08], // up_n_down
  null, // venture
  [0.4,0.35,0.3,0.2,0.35,0.35,0.35,0.35,0.3,0.3,0.3,0.3,0.35,0.4,0.25,0.4,0.5], // video_pinball
  [0.01,0.03,0.05,0.06,0.06,0.07,0.08,0.12,0.18,0.2,0.25,0.3,0.35,0.4,0.45,0.5,0.45], // wizard_of_wor
  [0.05,0.15,0.2,0.25,0.25,0.3,0.3,0.32,0.3,0.32,0.35,0.3,0.35,0.3,0.35,0.3,0.28], // yars_revenge
  [0,0,0,5,0,30,0,30,40,50,55,60,65,0,65,60,60] // zaxxon
];

// ---------------------------------------------------------------------------
// Layout & styles
// ---------------------------------------------------------------------------
const COLS = 6;
const PLOT_LEFT = 29, COL_STEP = 199.5, PLOT_W = 166;
const PLOT_TOP = 14, ROW_STEP = 169, PLOT_H = 141;
const FONT = '"Liberation Sans", Arial, sans-serif';
const LABEL_COLOR = '#3a3a3a';
const GREEN = '#008000';
const BAND_FILL = 'rgba(0,128,0,0.1)';
const SEED_COLOR = '#8fd68f';
const REF_COLOR = '#333333';
const EDGE_COLOR = '#8a8a8a';

function tickText(v, step) {
  if (Math.abs(v) < 1e-9) v = 0;
  return v.toFixed(step < 1 ? 1 : 0).replace('-', '\u2212');
}

function tickValues(min, max, step) {
  const out = [];
  let v = Math.ceil(min / step - 1e-9) * step;
  while (v <= max + 1e-9) {
    out.push(Math.round(v * 1000) / 1000);
    v += step;
  }
  return out;
}

const pairs = (ys) => xSteps.map((x, k) => [x, ys[k]]);
const onEdge = (v, min, max) => Math.abs(v - min) < 1e-9 || Math.abs(v - max) < 1e-9;

const grids = [], xAxes = [], yAxes = [], series = [], titles = [];

games.forEach((name, i) => {
  const col = i % COLS, row = Math.floor(i / COLS);
  const left = PLOT_LEFT + col * COL_STEP;
  const top = PLOT_TOP + row * ROW_STEP;
  const [ymin, ymax, ystep] = yRanges[i];

  grids.push({ left, top, width: PLOT_W, height: PLOT_H, containLabel: false });

  xAxes.push({
    type: 'value', gridIndex: i, min: 0,
    max: wideAxisGames.includes(name) ? 90 : 80, interval: 10,
    axisLine: { show: false }, axisTick: { show: false }, splitLine: { show: false },
    axisLabel: { color: LABEL_COLOR, fontSize: 8.5, fontFamily: FONT, margin: 4 }
  });

  yAxes.push({
    type: 'value', gridIndex: i, min: ymin, max: ymax,
    axisLine: { show: false }, axisTick: { show: false }, splitLine: { show: false },
    axisLabel: {
      color: LABEL_COLOR, fontSize: 8.5, fontFamily: FONT, margin: 6,
      customValues: tickValues(ymin, ymax, ystep),
      formatter: (v) => tickText(v, ystep)
    }
  });

  titles.push({
    type: 'text', x: left + PLOT_W / 2, y: top - 7, silent: true,
    style: { text: name, fill: '#333', fontSize: 10.5, fontFamily: FONT, align: 'center', verticalAlign: 'middle' }
  });

  const axisRef = { xAxisIndex: i, yAxisIndex: i };

  if (medianRuns[i]) {
    const lo = bandLow[i], hi = bandHigh[i];
    // shaded band between lo and hi
    series.push({
      type: 'custom', ...axisRef, silent: true, clip: true, z: 1,
      data: [[xSteps[0], lo[0]]],
      renderItem: (params, api) => {
        const upper = xSteps.map((x, k) => api.coord([x, hi[k]]));
        const lower = xSteps.map((x, k) => api.coord([x, lo[k]])).reverse();
        return { type: 'polygon', shape: { points: upper.concat(lower) }, style: { fill: BAND_FILL } };
      }
    });
    [seedHigh[i], seedLow[i]].forEach((run) => {
      series.push({
        type: 'line', ...axisRef, data: pairs(run), symbol: 'none', silent: true, z: 2,
        lineStyle: { color: SEED_COLOR, width: 1, type: [1.5, 2] }
      });
    });
  }

  // human reference (1) and random reference (0); lines lying on the frame edge look thinner
  const humanEdge = onEdge(humanScore, ymin, ymax);
  const randomEdge = onEdge(randomScore, ymin, ymax);
  series.push({
    type: 'line', ...axisRef, silent: true, symbol: 'none', z: 3,
    data: refSpan.map((x) => [x, humanScore]),
    lineStyle: { color: humanEdge ? EDGE_COLOR : REF_COLOR, width: humanEdge ? 1.2 : 2 }
  });
  series.push({
    type: 'line', ...axisRef, silent: true, symbol: 'none', z: 3,
    data: refSpan.map((x) => [x, randomScore]),
    lineStyle: { color: randomEdge ? EDGE_COLOR : '#222', width: randomEdge ? 1.2 : 2, type: [6, 4] }
  });

  if (medianRuns[i]) {
    const m = meanGames.indexOf(name);
    const mean = m >= 0 ? meanRuns[m] : medianRuns[i];
    series.push({
      type: 'line', ...axisRef, data: pairs(mean), symbol: 'none', silent: true, z: 4,
      lineStyle: { color: GREEN, width: 1.6, type: [6, 3] }
    });
    series.push({
      type: 'line', ...axisRef, data: pairs(medianRuns[i]), symbol: 'none', silent: true, z: 5,
      lineStyle: { color: GREEN, width: 1.6 }
    });
  }
});

const chart = echarts.init(document.getElementById('chart'), null, { renderer: 'svg' });
chart.setOption({
  backgroundColor: '#ffffff',
  animation: false,
  grid: grids,
  xAxis: xAxes,
  yAxis: yAxes,
  series: series,
  graphic: titles
});
</script>
</body>
</html>
